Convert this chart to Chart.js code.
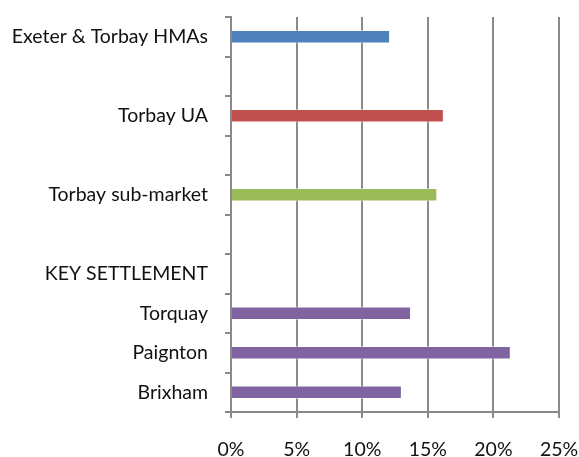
<!DOCTYPE html>
<html lang="en">
<head>
    <meta charset="UTF-8">
    <title>Torbay chart</title>
    <script src="https://cdn.jsdelivr.net/npm/chart.js"></script>
    <style>
        html, body { margin: 0; padding: 0; background: #fff; }
        #wrap { width: 579px; height: 457px; }
    </style>
</head>
<body>
<div id="wrap"><canvas id="areaChart" width="579" height="457"></canvas></div>

<script>
// categories top to bottom (blank rows are spacers)
const areas = ['Exeter & Torbay HMAs', '', 'Torbay UA', '', 'Torbay sub-market', '', 'KEY SETTLEMENT', 'Torquay', 'Paignton', 'Brixham'];
// percentages
const shares = [12.1, null, 16.2, null, 15.7, null, null, 13.7, 21.3, 13.0];
const barColours = ['#4F81BD', null, '#C0504D', null, '#9BBB59', null, null, '#8064A2', '#8064A2', '#8064A2'];
const xTicks = [0, 5, 10, 15, 20, 25];

const gridGrey = '#8a8a8a';
const labelFont = { family: 'Lato', size: 19.5 };

const ctx = document.getElementById('areaChart').getContext('2d');
const chart = new Chart(ctx, {
    type: 'bar',
    data: {
        labels: areas,
        datasets: [{
            data: shares,
            backgroundColor: barColours,
            borderColor: 'rgba(255,255,255,0.45)',
            borderWidth: 1,
            barThickness: 13
        }]
    },
    options: {
        indexAxis: 'y',
        responsive: false,
        animation: false,
        layout: { padding: { top: 17, right: 20, left: 0, bottom: 0 } },
        plugins: { legend: { display: false }, tooltip: { enabled: false } },
        scales: {
            x: {
                min: 0,
                max: 25,
                afterBuildTicks: (s) => { s.ticks = xTicks.map(v => ({ value: v })); },
                ticks: {
                    callback: (v) => v + '%',
                    color: '#111',
                    font: labelFont,
                    padding: 20,
                    maxRotation: 0
                },
                grid: { color: gridGrey, lineWidth: 2, tickLength: 6 },
                border: { color: gridGrey, width: 2 },
                afterFit: (s) => { s.height = 45; s.paddingLeft = 0; s.paddingRight = 0; }
            },
            y: {
                ticks: { color: '#111', font: labelFont, padding: 17 },
                grid: { drawOnChartArea: false, color: gridGrey, lineWidth: 2, tickLength: 6, offset: true },
                border: { color: gridGrey, width: 2 },
                afterFit: (s) => { s.width = 231; s.paddingTop = 0; s.paddingBottom = 0; }
            }
        }
    }
});
</script>
</body>
</html>
